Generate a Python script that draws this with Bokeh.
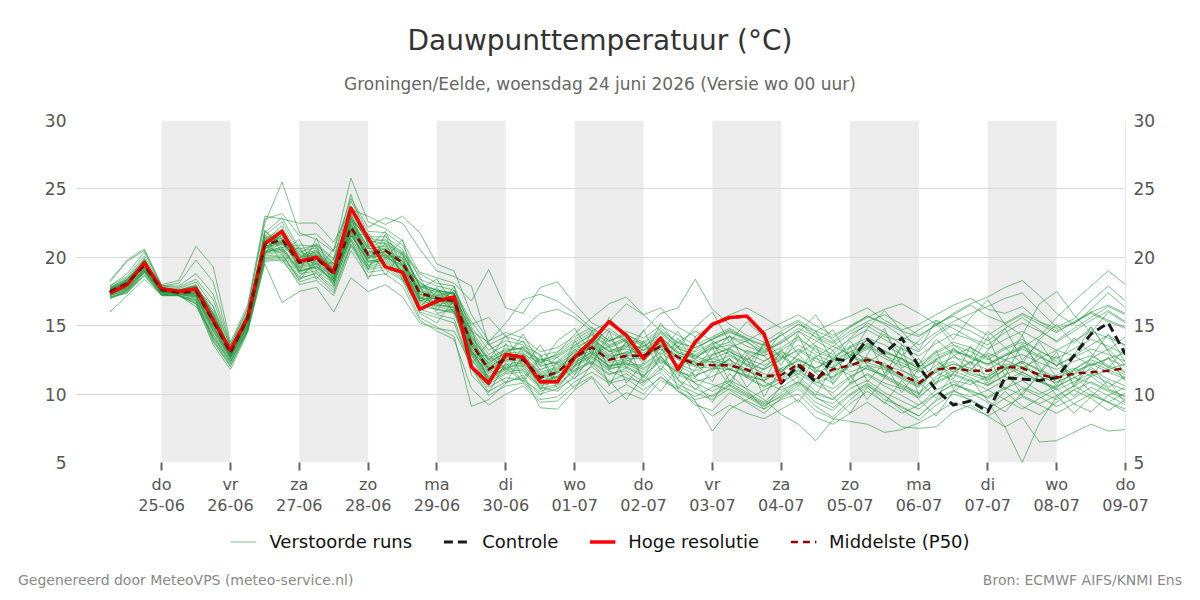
from bokeh.plotting import figure
from bokeh.layouts import column
from bokeh.models import (Range1d, LinearAxis, FixedTicker, BoxAnnotation, Div,
                          Legend, LegendItem)
from bokeh.embed import file_html
from bokeh.resources import INLINE

FONT = "DejaVu Sans"

# Forecast steps in hours after woensdag 24-06 00:00 (6-hourly)
hours = list(range(6, 361, 6))

# Day ticks (hours) with Dutch weekday / date labels
day_ticks = [24, 48, 72, 96, 120, 144, 168, 192, 216, 240, 264, 288, 312, 336, 360]
day_names = ["do", "vr", "za", "zo", "ma", "di", "wo", "do", "vr", "za", "zo", "ma", "di", "wo", "do"]
day_dates = ["25-06", "26-06", "27-06", "28-06", "29-06", "30-06", "01-07", "02-07",
             "03-07", "04-07", "05-07", "06-07", "07-07", "08-07", "09-07"]
# Alternate days shaded grey (start hour of each shaded day)
shaded_days = [24, 72, 120, 168, 216, 264, 312]

y_ticks = [5, 10, 15, 20, 25, 30]

# Median of the ensemble (P50)
p50 = [17.5, 18.1, 19.4, 17.6, 17.4, 17.5, 15.3, 13.0, 15.5, 20.9,
       21.3, 19.6, 19.9, 18.8, 22.2, 20.2, 20.5, 19.6, 17.4, 17.0,
       16.8, 13.7, 11.8, 12.6, 12.5, 11.2, 11.6, 12.7, 13.4, 12.5,
       12.8, 12.8, 13.5, 12.7, 12.2, 12.1, 12.1, 11.8, 11.3, 11.4,
       12.2, 11.2, 11.8, 12.1, 12.5, 12.2, 11.4, 10.8, 11.8, 11.9,
       11.7, 11.7, 12.0, 11.9, 11.4, 11.2, 11.5, 11.6, 11.7, 11.9]

# High resolution run (first 10 days)
hres = [17.4, 18.0, 19.6, 17.7, 17.5, 17.7, 15.4, 13.2, 15.6, 21.0,
        21.9, 19.7, 20.0, 18.9, 23.6, 21.4, 19.3, 18.9, 16.2, 16.8,
        17.1, 12.0, 10.8, 12.9, 12.7, 10.9, 10.9, 12.7, 13.9, 15.3,
        14.3, 12.6, 14.1, 11.8, 13.8, 15.1, 15.6, 15.7, 14.4, 10.8]

# Control run
controle = [17.4, 18.0, 19.6, 17.7, 17.5, 17.7, 15.4, 13.2, 15.6, 21.0,
            21.9, 19.7, 20.0, 18.9, 23.6, 21.4, 19.3, 18.9, 16.2, 16.8,
            17.1, 12.0, 10.8, 12.9, 12.7, 10.9, 10.9, 12.7, 13.9, 15.3,
            14.3, 12.6, 14.1, 11.8, 13.8, 15.1, 15.6, 15.7, 14.4, 10.8,
            12.1, 10.9, 12.6, 12.4, 14.0, 13.0, 14.1, 12.0, 10.3, 9.2,
            9.5, 8.7, 11.2, 11.1, 11.0, 11.2, 12.8, 14.4, 15.2, 12.9]

# Perturbed ensemble members
members = [
    [17.6, 18.2, 19.7, 17.8, 17.6, 17.9, 15.8, 13.1, 15.4, 21.2,
     22.3, 20.1, 20.4, 19.2, 23.4, 21.0, 20.0, 19.4, 16.8, 17.2,
     17.4, 12.5, 11.0, 12.8, 13.0, 11.4, 11.2, 12.5, 13.6, 14.8,
     13.9, 12.4, 13.8, 12.0, 13.2, 14.1, 14.6, 13.9, 12.8, 11.6,
     12.9, 11.5, 10.8, 12.4, 13.6, 12.9, 11.8, 10.9, 11.7, 12.8,
     13.4, 12.6, 11.9, 12.3, 11.0, 10.4, 11.8, 12.6, 13.3, 12.1],
    [17.3, 17.8, 19.1, 17.4, 17.3, 17.1, 14.6, 12.6, 15.0, 20.3,
     20.8, 19.0, 19.2, 18.3, 21.6, 19.8, 19.6, 18.7, 16.4, 16.2,
     16.0, 12.8, 10.9, 11.6, 11.8, 10.5, 10.2, 11.4, 12.6, 11.7,
     11.2, 10.8, 12.1, 11.0, 10.4, 9.8, 10.6, 9.9, 9.2, 9.8,
     10.6, 9.4, 8.8, 9.9, 10.7, 9.6, 9.1, 8.4, 9.5, 10.2,
     9.8, 10.3, 9.6, 8.9, 9.7, 10.4, 9.3, 8.7, 9.9, 10.5],
    [17.9, 18.6, 20.1, 17.9, 17.8, 18.4, 16.9, 13.4, 15.9, 21.8,
     22.9, 20.6, 20.9, 19.8, 24.1, 21.9, 21.8, 20.9, 18.4, 17.9,
     17.6, 14.9, 13.2, 13.9, 13.6, 12.4, 12.9, 13.8, 14.5, 13.8,
     14.6, 14.1, 15.0, 14.3, 13.6, 14.2, 14.8, 14.1, 13.2, 13.7,
     14.6, 13.5, 12.9, 14.1, 15.2, 14.5, 13.6, 13.1, 14.3, 15.1,
     14.6, 13.9, 14.8, 15.6, 14.7, 13.8, 14.6, 15.4, 16.1, 15.3],
    [17.0, 17.5, 18.9, 17.3, 17.2, 16.9, 14.2, 12.3, 14.8, 20.1,
     20.2, 18.6, 19.6, 18.0, 21.4, 19.4, 20.2, 19.0, 17.0, 16.6,
     16.3, 13.1, 11.5, 12.1, 12.4, 11.0, 11.3, 12.2, 13.1, 12.0,
     12.4, 12.9, 13.3, 12.1, 11.4, 11.8, 12.6, 11.3, 10.6, 11.2,
     12.0, 11.1, 11.6, 12.3, 11.8, 11.4, 10.7, 10.1, 11.3, 12.0,
     11.4, 11.0, 11.8, 12.4, 11.7, 10.9, 11.4, 12.2, 11.6, 11.1],
    [17.7, 18.4, 19.8, 17.7, 17.5, 17.8, 16.1, 13.3, 15.7, 21.0,
     21.6, 20.3, 21.0, 19.9, 22.8, 21.4, 21.2, 20.4, 18.9, 18.5,
     18.1, 16.8, 19.1, 16.3, 15.9, 17.8, 18.2, 16.6, 15.2, 14.6,
     13.8, 13.2, 14.1, 13.0, 12.6, 13.5, 12.9, 12.2, 11.8, 12.6,
     13.2, 12.4, 11.9, 12.8, 13.4, 12.6, 12.1, 11.6, 12.5, 13.1,
     12.8, 12.2, 12.9, 13.5, 12.8, 12.1, 12.7, 13.3, 12.9, 12.4],
    [17.5, 18.0, 19.3, 17.6, 17.4, 17.6, 15.6, 13.0, 15.3, 20.7,
     21.1, 19.8, 20.2, 19.1, 22.5, 20.6, 20.9, 20.1, 17.9, 17.4,
     17.3, 14.6, 13.8, 15.2, 16.9, 17.3, 16.8, 15.9, 14.8, 13.9,
     14.4, 13.6, 12.9, 13.8, 14.6, 13.9, 13.1, 12.5, 13.4, 12.8,
     11.9, 12.7, 13.5, 12.9, 12.3, 13.1, 12.6, 11.8, 12.4, 11.6,
     12.3, 13.0, 12.5, 11.9, 12.6, 13.2, 12.8, 12.1, 12.6, 13.0],
    [17.2, 17.6, 19.0, 17.3, 17.2, 16.8, 13.9, 12.1, 14.6, 19.7,
     19.8, 18.2, 18.6, 17.4, 20.8, 18.9, 19.1, 18.3, 15.6, 14.9,
     14.2, 9.1, 9.6, 10.8, 11.4, 9.0, 8.9, 10.3, 11.2, 9.3,
     10.1, 9.6, 11.0, 10.4, 9.2, 8.8, 10.1, 9.4, 8.6, 9.7,
     10.4, 9.1, 8.3, 9.6, 10.6, 9.9, 8.8, 8.1, 9.2, 10.0,
     9.6, 8.9, 10.2, 9.1, 8.5, 9.4, 10.3, 9.7, 8.8, 9.6],
    [17.8, 18.5, 19.9, 17.8, 17.7, 18.2, 16.4, 13.5, 16.0, 21.6,
     22.6, 20.4, 20.7, 19.5, 23.7, 21.5, 21.5, 20.6, 17.8, 17.5,
     17.4, 13.9, 12.2, 13.1, 13.4, 12.1, 12.3, 13.2, 14.1, 13.1,
     13.6, 13.4, 14.4, 13.3, 12.9, 13.6, 14.2, 13.8, 13.1, 13.9,
     14.8, 14.2, 13.7, 14.6, 15.3, 15.8, 15.1, 14.3, 15.0, 15.9,
     16.6, 17.1, 17.8, 18.3, 17.2, 15.9, 15.1, 16.2, 17.4, 16.3],
    [17.4, 17.9, 19.2, 17.5, 17.3, 17.4, 15.1, 12.8, 15.3, 20.6,
     21.0, 19.4, 19.7, 18.6, 22.0, 20.0, 20.3, 19.4, 17.2, 16.9,
     16.6, 13.4, 11.6, 12.4, 12.2, 11.1, 11.5, 12.6, 13.2, 12.3,
     12.6, 12.6, 13.3, 12.5, 12.0, 11.9, 11.8, 11.4, 11.0, 11.6,
     12.5, 11.9, 12.6, 11.6, 12.1, 11.8, 11.1, 10.5, 11.9, 12.4,
     11.5, 11.2, 12.1, 11.6, 11.0, 11.4, 11.9, 11.3, 11.8, 12.2],
    [17.1, 17.4, 18.8, 17.2, 17.2, 16.9, 14.0, 12.2, 14.7, 19.9,
     20.0, 18.4, 18.9, 17.8, 21.0, 19.2, 19.5, 18.5, 16.0, 15.6,
     15.2, 11.8, 10.5, 11.2, 11.0, 10.2, 10.6, 11.7, 12.3, 11.4,
     11.9, 11.3, 12.5, 11.6, 10.8, 10.2, 10.9, 10.1, 9.4, 10.5,
     11.3, 10.2, 9.6, 10.8, 11.4, 10.6, 9.9, 9.2, 10.3, 10.9,
     10.1, 9.4, 7.6, 5.0, 7.9, 9.8, 10.6, 11.3, 10.4, 9.8],
    [17.6, 18.3, 19.6, 17.7, 17.5, 17.7, 15.5, 13.1, 15.6, 21.1,
     21.5, 19.8, 20.1, 19.0, 22.4, 20.4, 20.7, 19.8, 17.6, 17.2,
     17.0, 14.0, 12.1, 12.9, 12.8, 11.6, 12.0, 13.1, 13.8, 12.9,
     13.4, 14.6, 15.9, 16.3, 18.4, 16.2, 15.1, 14.3, 13.8, 14.6,
     15.3, 14.1, 13.5, 14.4, 15.0, 14.2, 13.9, 14.7, 15.4, 14.8,
     14.1, 13.6, 14.5, 15.2, 14.6, 13.9, 14.8, 15.6, 16.4, 15.8],
    [17.3, 17.7, 19.0, 17.4, 17.3, 17.3, 14.9, 12.7, 15.1, 20.4,
     20.6, 19.1, 19.3, 18.4, 21.8, 19.7, 20.0, 19.1, 16.9, 16.5,
     16.4, 13.2, 11.3, 12.2, 12.0, 10.8, 11.1, 12.1, 12.9, 12.1,
     12.2, 12.1, 13.0, 12.2, 11.7, 12.3, 12.8, 12.1, 11.5, 10.9,
     11.7, 10.8, 11.3, 12.1, 12.7, 12.0, 11.4, 10.8, 11.6, 11.0,
     10.7, 11.3, 12.0, 11.4, 10.9, 10.5, 11.2, 11.8, 11.1, 10.6],
    [17.9, 18.8, 20.4, 17.9, 17.9, 18.8, 17.3, 13.6, 16.2, 22.5,
     25.5, 21.8, 21.3, 20.4, 25.8, 22.6, 22.1, 21.2, 18.8, 18.1,
     17.9, 14.6, 12.9, 13.6, 13.2, 12.5, 12.8, 13.6, 14.3, 13.4,
     13.9, 13.2, 14.2, 13.1, 12.8, 13.4, 13.8, 13.0, 12.4, 13.2,
     14.0, 13.3, 12.7, 13.5, 14.1, 13.6, 12.9, 12.2, 13.1, 13.8,
     13.4, 12.7, 13.4, 14.0, 13.1, 12.6, 13.3, 14.0, 13.5, 12.9],
    [16.0, 17.2, 18.4, 17.2, 17.2, 16.6, 13.6, 11.8, 14.5, 19.5,
     16.7, 17.5, 17.8, 16.0, 18.5, 17.5, 18.0, 17.1, 15.2, 14.8,
     14.6, 12.1, 10.2, 10.9, 11.2, 10.0, 10.4, 11.2, 12.0, 10.9,
     11.5, 10.6, 11.9, 10.7, 10.1, 9.6, 10.4, 9.8, 9.1, 9.9,
     10.8, 9.7, 9.3, 10.4, 11.0, 10.1, 9.5, 8.9, 10.0, 10.7,
     10.2, 9.8, 10.5, 9.9, 9.3, 9.9, 10.6, 9.9, 9.4, 10.1],
    [18.3, 19.8, 20.6, 18.0, 18.3, 20.8, 19.3, 13.8, 16.5, 23.0,
     22.8, 22.5, 22.5, 21.1, 23.5, 23.0, 22.4, 23.0, 21.8, 19.5,
     19.0, 15.8, 13.9, 14.5, 14.1, 13.1, 13.4, 14.2, 14.9, 13.9,
     14.3, 13.8, 14.8, 13.7, 13.4, 14.0, 14.7, 14.0, 13.6, 14.3,
     15.1, 14.4, 13.8, 14.9, 15.7, 15.1, 14.2, 13.6, 14.5, 15.3,
     15.9, 16.4, 17.0, 17.4, 16.1, 14.9, 15.5, 16.8, 17.9, 16.8],
    [17.5, 18.0, 19.3, 17.5, 17.4, 17.5, 15.3, 12.9, 15.4, 20.8,
     21.2, 19.5, 19.8, 18.7, 22.1, 20.1, 20.4, 19.5, 17.3, 16.9,
     16.7, 13.6, 11.7, 12.5, 12.6, 11.3, 11.7, 12.8, 13.5, 12.6,
     13.1, 13.5, 14.2, 12.9, 12.3, 12.6, 12.2, 11.7, 11.2, 11.9,
     12.4, 11.6, 12.0, 12.7, 12.3, 11.9, 11.2, 10.6, 11.8, 12.2,
     11.9, 11.4, 12.2, 12.0, 11.5, 11.1, 11.7, 12.1, 12.6, 12.0],
    [17.2, 17.7, 19.1, 17.4, 17.3, 17.0, 14.4, 12.5, 14.9, 20.2,
     20.4, 18.8, 19.0, 18.1, 21.2, 19.3, 19.7, 18.8, 16.6, 16.2,
     15.9, 12.6, 10.7, 11.5, 11.6, 10.4, 10.7, 11.8, 12.4, 11.5,
     11.7, 10.9, 11.6, 10.2, 9.4, 8.4, 9.2, 8.6, 8.2, 8.9,
     9.6, 8.3, 7.8, 8.6, 9.4, 8.5, 7.6, 7.5, 7.6, 8.7,
     9.2, 8.4, 7.6, 8.3, 6.5, 6.6, 7.2, 7.8, 7.3, 7.4],
    [17.7, 18.3, 19.5, 17.7, 17.5, 17.6, 15.4, 13.1, 15.6, 21.0,
     21.6, 19.9, 20.3, 19.1, 22.7, 20.6, 20.8, 19.9, 17.7, 17.3,
     17.1, 14.2, 12.4, 13.0, 13.1, 11.8, 12.2, 13.0, 13.9, 13.1,
     13.3, 12.8, 13.6, 12.8, 12.4, 12.9, 13.3, 12.6, 12.1, 12.7,
     13.6, 12.9, 12.3, 13.1, 13.7, 13.2, 12.5, 11.9, 12.8, 13.3,
     12.6, 12.2, 12.8, 13.3, 12.7, 12.1, 12.8, 13.6, 14.3, 13.5],
    [17.4, 17.9, 19.4, 17.5, 17.4, 17.4, 15.2, 12.9, 15.4, 20.7,
     21.1, 19.3, 19.6, 18.5, 22.0, 20.0, 20.1, 19.2, 17.1, 16.8,
     16.6, 13.3, 11.2, 11.9, 12.3, 10.9, 11.3, 12.4, 13.1, 12.1,
     12.5, 11.9, 12.8, 11.1, 9.5, 7.3, 8.9, 9.6, 10.3, 10.9,
     11.5, 10.7, 10.1, 11.2, 12.0, 11.3, 10.6, 10.0, 11.1, 11.7,
     11.2, 10.6, 11.4, 12.0, 11.3, 10.8, 11.5, 12.3, 11.8, 11.2],
    [17.6, 18.2, 19.6, 17.6, 17.5, 17.8, 15.9, 13.2, 15.7, 21.3,
     21.9, 20.2, 20.5, 19.4, 22.9, 21.2, 21.0, 20.2, 18.1, 17.6,
     17.3, 15.1, 15.6, 14.2, 14.8, 15.9, 16.2, 15.6, 14.6, 15.3,
     16.6, 15.8, 16.3, 14.9, 14.2, 15.1, 15.8, 16.3, 15.6, 14.8,
     15.4, 14.6, 15.2, 15.7, 16.3, 15.4, 14.7, 15.1, 15.8, 16.5,
     17.0, 16.2, 15.9, 16.4, 15.3, 14.8, 15.2, 16.0, 16.5, 15.9],
    [17.3, 17.8, 19.2, 17.5, 17.3, 17.2, 14.8, 12.8, 15.2, 20.5,
     20.7, 19.2, 19.5, 18.5, 21.9, 19.9, 20.2, 19.3, 17.0, 16.7,
     16.5, 12.9, 11.0, 11.8, 11.7, 10.6, 10.9, 12.0, 12.7, 11.9,
     12.0, 11.4, 12.4, 11.6, 11.3, 11.9, 12.5, 11.8, 10.9, 10.3,
     10.9, 10.0, 9.6, 10.7, 11.5, 10.8, 10.4, 9.7, 10.9, 11.5,
     11.0, 10.7, 11.3, 10.5, 10.0, 10.6, 11.2, 10.8, 10.2, 9.6],
    [17.8, 18.4, 19.7, 17.8, 17.6, 17.9, 15.7, 13.2, 15.8, 21.4,
     22.0, 20.0, 20.4, 19.3, 23.1, 21.1, 21.3, 20.3, 18.0, 17.6,
     17.3, 14.5, 12.6, 13.3, 13.3, 12.0, 12.4, 13.4, 14.0, 13.2,
     13.5, 13.0, 13.9, 13.0, 12.7, 13.3, 13.6, 13.1, 12.8, 13.4,
     14.2, 13.1, 12.6, 13.4, 13.9, 13.0, 12.6, 12.0, 13.0, 13.6,
     13.1, 12.5, 13.3, 13.8, 13.2, 12.4, 11.3, 10.2, 9.4, 8.7],
    [17.1, 17.5, 18.9, 17.3, 17.2, 16.7, 14.1, 12.4, 14.8, 20.0,
     20.1, 18.5, 18.8, 17.6, 20.9, 19.1, 19.3, 18.4, 16.2, 15.8,
     15.5, 11.9, 9.9, 10.6, 10.8, 9.6, 9.8, 10.9, 11.6, 10.8,
     11.1, 10.3, 11.2, 10.5, 9.8, 10.5, 11.0, 10.4, 9.6, 8.5,
     7.8, 6.6, 8.1, 9.3, 10.2, 9.4, 8.6, 9.2, 10.0, 10.7,
     10.3, 9.7, 10.4, 11.0, 10.2, 9.6, 10.3, 10.9, 10.3, 9.8],
    [17.6, 18.1, 19.5, 17.6, 17.5, 17.6, 15.6, 13.0, 15.5, 21.1,
     21.4, 19.7, 20.0, 18.9, 22.3, 20.3, 20.6, 19.7, 17.5, 17.1,
     16.9, 13.8, 12.0, 12.7, 12.6, 11.4, 11.8, 12.9, 13.6, 12.8,
     13.0, 13.2, 13.7, 12.6, 12.2, 12.4, 12.1, 11.6, 12.4, 13.1,
     12.5, 11.9, 12.5, 13.1, 12.6, 12.1, 11.7, 11.2, 12.1, 12.7,
     12.3, 11.8, 12.5, 12.9, 12.3, 11.8, 12.4, 12.8, 12.1, 11.6],
    [17.7, 18.3, 19.6, 17.7, 17.6, 17.8, 15.9, 13.2, 15.6, 21.2,
     21.8, 20.0, 20.2, 19.2, 22.6, 20.8, 21.1, 20.2, 17.9, 17.6,
     17.4, 14.3, 12.5, 13.2, 13.4, 12.3, 12.7, 13.5, 14.4, 13.5,
     14.0, 13.7, 14.6, 13.8, 13.4, 14.0, 14.5, 14.1, 13.5, 14.3,
     15.1, 14.6, 14.1, 15.0, 15.7, 15.2, 14.6, 14.2, 15.1, 15.7,
     15.0, 14.3, 15.1, 15.8, 15.1, 14.5, 15.3, 16.0, 15.4, 14.9],
    [17.2, 17.6, 19.0, 17.4, 17.3, 17.1, 14.6, 12.6, 15.0, 20.3,
     20.5, 18.9, 19.4, 18.2, 21.6, 19.6, 19.8, 18.9, 16.7, 16.4,
     16.1, 13.0, 11.1, 11.9, 11.9, 10.7, 11.0, 12.1, 12.8, 11.8,
     12.2, 11.6, 12.6, 11.4, 10.9, 11.3, 11.9, 11.2, 10.5, 11.1,
     11.8, 10.9, 10.4, 11.3, 11.9, 11.2, 10.5, 9.8, 10.8, 11.4,
     10.9, 10.3, 11.0, 11.6, 10.9, 10.3, 10.9, 11.5, 10.8, 10.3],
    [18.2, 19.7, 20.5, 17.9, 18.1, 19.8, 18.2, 13.6, 16.3, 22.8,
     23.2, 21.6, 21.7, 20.5, 24.3, 22.2, 22.9, 22.5, 20.6, 19.0,
     18.6, 17.9, 13.6, 14.2, 13.8, 12.8, 13.1, 14.0, 14.7, 13.6,
     14.1, 13.5, 14.5, 13.5, 13.1, 13.7, 14.2, 13.5, 13.0, 13.8,
     14.6, 13.9, 13.2, 14.0, 14.7, 14.0, 13.3, 12.8, 13.7, 14.4,
     14.0, 13.3, 14.0, 14.6, 13.9, 13.2, 13.9, 14.6, 14.1, 13.6],
    [17.0, 17.4, 18.7, 17.2, 17.2, 16.6, 13.8, 12.0, 14.6, 19.8,
     19.9, 18.0, 18.3, 17.2, 20.5, 18.6, 18.8, 17.9, 15.4, 14.6,
     14.0, 10.4, 9.2, 10.0, 10.6, 9.4, 9.5, 10.6, 11.3, 10.0,
     10.7, 10.0, 11.3, 10.2, 9.6, 9.9, 10.7, 10.0, 9.3, 10.1,
     10.9, 9.8, 9.0, 10.0, 10.8, 9.9, 9.0, 8.4, 9.6, 10.3,
     9.5, 8.9, 9.7, 10.4, 9.8, 9.1, 9.7, 10.5, 9.9, 9.2],
    [17.5, 18.0, 19.4, 17.6, 17.4, 17.5, 15.4, 13.0, 15.4, 20.9,
     21.3, 19.6, 20.0, 18.8, 22.2, 20.2, 20.5, 19.6, 17.4, 17.0,
     16.8, 13.7, 11.9, 12.6, 12.9, 12.3, 13.0, 14.4, 15.6, 16.6,
     17.1, 15.8, 14.6, 13.4, 12.8, 12.3, 11.8, 11.3, 11.0, 11.7,
     12.6, 11.8, 11.2, 12.0, 12.6, 12.0, 11.3, 10.7, 11.6, 12.2,
     11.7, 11.1, 11.8, 12.4, 11.8, 11.2, 11.8, 12.5, 12.0, 11.4],
    [17.6, 18.2, 19.5, 17.7, 17.5, 17.7, 15.5, 13.1, 15.6, 21.0,
     21.4, 19.8, 20.1, 19.0, 22.4, 20.4, 20.6, 19.7, 17.5, 17.1,
     16.9, 13.8, 11.9, 12.8, 12.7, 11.5, 11.9, 12.9, 13.5, 12.7,
     13.0, 12.7, 13.5, 12.6, 12.1, 12.6, 13.1, 12.4, 11.8, 12.5,
     13.3, 12.6, 12.1, 12.9, 13.5, 12.8, 12.3, 11.7, 12.6, 13.2,
     12.7, 12.1, 12.8, 13.4, 14.2, 15.6, 16.8, 17.9, 19.0, 18.0],
    [17.3, 17.8, 19.1, 17.5, 17.3, 17.2, 14.9, 12.7, 15.1, 20.4,
     20.6, 19.0, 19.3, 18.3, 21.7, 19.7, 19.9, 19.0, 16.8, 16.5,
     16.3, 13.1, 11.2, 12.0, 12.1, 10.9, 11.2, 12.3, 13.0, 12.0,
     12.3, 11.8, 12.7, 11.7, 11.1, 10.7, 10.3, 9.5, 8.9, 9.6,
     10.0, 8.8, 8.2, 8.0, 7.8, 7.2, 7.4, 7.9, 8.6, 9.4,
     9.0, 8.4, 9.1, 9.8, 9.2, 8.6, 9.3, 10.0, 9.4, 8.9],
    [17.5, 18.1, 19.4, 17.6, 17.4, 17.5, 15.3, 12.9, 15.5, 20.8,
     21.2, 19.6, 19.9, 18.8, 22.1, 20.1, 20.4, 19.5, 17.3, 16.9,
     16.7, 13.6, 11.8, 12.5, 12.4, 11.2, 11.6, 12.7, 13.4, 12.5,
     12.8, 12.8, 13.6, 12.7, 12.1, 12.8, 13.4, 13.9, 14.6, 15.2,
     15.8, 15.0, 14.3, 14.9, 15.6, 16.2, 16.6, 15.9, 15.1, 15.8,
     16.5, 15.7, 15.2, 15.9, 15.3, 14.6, 15.2, 15.9, 15.3, 14.8],
    [17.4, 18.3, 19.9, 17.6, 17.5, 17.2, 14.7, 12.7, 15.3, 22.0,
     20.4, 21.3, 19.0, 20.6, 21.9, 19.1, 21.7, 18.3, 17.9, 15.9,
     16.2, 12.2, 13.8, 11.6, 13.5, 12.9, 10.8, 13.9, 12.2, 14.6,
     11.9, 13.9, 11.7, 14.1, 12.3, 10.9, 13.4, 11.2, 13.8, 12.1,
     14.3, 11.6, 13.2, 10.8, 12.9, 14.8, 11.9, 12.6, 10.7, 13.4,
     12.1, 14.2, 11.3, 13.7, 12.0, 10.6, 12.8, 14.9, 13.1, 11.5],
    [17.8, 18.1, 19.3, 17.5, 17.6, 18.0, 15.9, 12.9, 15.8, 20.2,
     22.1, 18.9, 21.4, 18.4, 23.0, 19.4, 19.9, 21.3, 16.9, 17.8,
     15.9, 14.8, 10.6, 13.7, 11.1, 12.8, 10.4, 12.0, 14.6, 11.8,
     13.9, 10.9, 12.8, 11.1, 14.2, 12.4, 10.6, 12.9, 10.9, 13.3,
     11.4, 13.6, 10.7, 12.2, 14.1, 11.5, 13.4, 9.9, 12.6, 11.1,
     13.5, 10.8, 12.4, 14.3, 11.6, 13.1, 10.5, 12.7, 14.4, 12.3],
    [17.2, 17.9, 19.6, 17.7, 17.4, 17.6, 15.2, 13.3, 15.1, 21.5,
     19.6, 20.8, 18.4, 19.9, 24.6, 20.9, 18.7, 20.4, 18.6, 16.1,
     17.9, 13.1, 11.9, 10.8, 12.9, 10.3, 12.4, 11.6, 13.8, 10.6,
     12.9, 11.2, 13.6, 10.4, 11.8, 13.4, 10.9, 12.6, 9.8, 11.9,
     10.6, 12.8, 11.0, 13.5, 10.9, 12.3, 10.1, 11.9, 13.2, 10.4,
     11.8, 12.9, 10.3, 11.6, 13.0, 11.2, 9.8, 11.4, 12.7, 10.9],
    [17.6, 17.7, 19.0, 17.8, 17.3, 17.4, 15.0, 12.8, 15.6, 20.6,
     21.7, 19.2, 20.7, 17.9, 22.7, 21.6, 19.2, 19.0, 17.7, 18.4,
     16.5, 14.1, 12.5, 14.3, 12.0, 13.6, 11.5, 13.3, 12.1, 14.2,
     12.6, 14.7, 12.2, 13.5, 11.2, 12.9, 14.3, 12.0, 13.7, 11.6,
     13.0, 14.6, 12.4, 13.9, 12.1, 11.3, 13.6, 12.2, 14.0, 12.9,
     11.7, 13.2, 14.8, 12.5, 13.8, 12.0, 14.1, 13.0, 11.9, 13.4],
    [17.3, 18.4, 19.5, 17.4, 17.5, 17.3, 15.5, 12.9, 14.9, 21.9,
     20.9, 20.6, 19.5, 19.6, 23.2, 19.9, 21.0, 18.6, 16.4, 17.5,
     17.0, 12.9, 12.8, 11.9, 10.9, 12.6, 12.2, 11.1, 12.9, 13.5,
     10.8, 12.3, 14.0, 11.9, 10.3, 11.7, 12.6, 10.5, 11.9, 13.0,
     11.1, 9.9, 12.0, 11.4, 9.6, 11.2, 12.7, 10.9, 9.7, 11.6,
     12.4, 10.6, 11.9, 9.9, 11.5, 12.8, 10.7, 12.0, 10.5, 11.3],
    [17.7, 18.0, 19.8, 17.6, 17.6, 17.9, 15.6, 13.4, 15.7, 20.4,
     21.0, 19.9, 20.9, 19.5, 21.5, 21.8, 20.1, 20.0, 17.1, 16.6,
     17.6, 15.3, 13.6, 12.6, 14.4, 12.1, 13.9, 14.8, 12.9, 15.6,
     14.1, 12.6, 15.2, 13.4, 14.9, 16.0, 13.8, 15.3, 14.1, 12.6,
     14.5, 15.8, 13.9, 12.7, 14.8, 16.1, 14.6, 13.2, 15.4, 14.0,
     15.6, 16.9, 15.1, 14.3, 16.6, 17.5, 15.8, 14.5, 16.0, 15.2],
    [17.0, 17.6, 18.6, 17.3, 17.2, 16.4, 14.3, 12.4, 14.7, 20.8,
     20.3, 18.3, 19.9, 18.7, 21.3, 18.4, 20.6, 18.9, 15.9, 15.2,
     16.9, 11.4, 10.1, 12.3, 10.9, 9.9, 11.7, 10.4, 12.2, 11.0,
     9.6, 11.4, 10.2, 12.0, 10.8, 9.4, 11.5, 10.3, 8.9, 10.6,
     9.4, 11.2, 9.8, 8.6, 10.5, 9.3, 11.0, 9.6, 8.4, 10.2,
     11.1, 9.5, 8.7, 10.1, 11.4, 9.9, 8.6, 9.8, 11.0, 9.3],
    [17.5, 18.2, 19.2, 17.7, 17.4, 17.7, 16.4, 13.0, 15.9, 21.6,
     20.7, 20.9, 20.8, 18.2, 22.9, 20.7, 21.9, 19.3, 18.2, 17.1,
     16.0, 13.5, 12.3, 13.0, 13.9, 11.7, 12.7, 11.4, 13.9, 12.4,
     13.8, 12.2, 13.1, 14.6, 12.5, 13.8, 11.7, 13.2, 12.8, 14.5,
     12.9, 13.8, 14.7, 12.6, 13.3, 14.4, 12.8, 13.9, 15.2, 13.6,
     12.7, 14.6, 13.4, 12.2, 14.0, 15.1, 13.7, 14.9, 13.2, 14.2],
]

for k, m in enumerate(members):
    if len(m) != len(hours):
        raise ValueError(f"member {k} has {len(m)} values")
for name, s in (("p50", p50), ("controle", controle)):
    if len(s) != len(hours):
        raise ValueError(f"{name} has {len(s)} values")

W = 1200
HEADER_H = 100          # title block
MAIN_H = 420            # chart with its axes
LEGEND_H = 42           # legend strip
FOOTER_H = 600 - HEADER_H - MAIN_H - LEGEND_H
FRAME_L, FRAME_W, FRAME_H, FRAME_TOP_PAD = 75, 1050, 342, 20

MEMBER_STYLE = dict(line_color="#25973f", line_alpha=0.6, line_width=1, line_join="round")
CTRL_STYLE = dict(line_color="#1a1a1a", line_width=3, line_dash="9 5", line_join="round")
HRES_STYLE = dict(line_color="#ff0000", line_width=3.5, line_join="round")
P50_STYLE = dict(line_color="#8b0000", line_width=2.5, line_dash="7 5", line_join="round")

p = figure(width=W, height=MAIN_H, x_range=Range1d(-6, 360), y_range=Range1d(5, 30),
           output_backend="svg", toolbar_location=None,
           min_border_left=FRAME_L, min_border_right=W - FRAME_L - FRAME_W,
           min_border_top=FRAME_TOP_PAD,
           min_border_bottom=MAIN_H - FRAME_TOP_PAD - FRAME_H)
p.outline_line_color = None
p.background_fill_color = "white"
p.border_fill_color = "white"

# shaded alternate days
for start in shaded_days:
    p.add_layout(BoxAnnotation(left=start, right=start + 24, fill_color="#ececec",
                               fill_alpha=1.0, line_alpha=0, level="image"))

# axes
xa = p.xaxis[0]
xa.ticker = FixedTicker(ticks=day_ticks)
xa.major_label_overrides = {t: f"{n}\n{d}" for t, n, d in zip(day_ticks, day_names, day_dates)}
xa.axis_line_color = None
xa.major_tick_in = 0
xa.major_tick_out = 8
xa.major_tick_line_color = "#666666"
xa.major_tick_line_width = 2
xa.minor_tick_line_color = None
xa.major_label_standoff = 4
xa.major_label_text_font = FONT
xa.major_label_text_font_size = "16px"
xa.major_label_text_color = "#555555"
xa.major_label_text_line_height = 1.15


def style_value_axis(ax, standoff):
    ax.ticker = FixedTicker(ticks=y_ticks)
    ax.major_tick_line_color = None
    ax.minor_tick_line_color = None
    ax.major_tick_in = 0
    ax.major_tick_out = 0
    ax.major_label_standoff = standoff
    ax.major_label_text_font = FONT
    ax.major_label_text_font_size = "17px"
    ax.major_label_text_color = "#555555"


ya = p.yaxis[0]
style_value_axis(ya, 9)
ya.axis_line_color = None

yr = LinearAxis()
style_value_axis(yr, 8)
yr.axis_line_color = "#e6e6e6"
p.add_layout(yr, "right")

p.xgrid.visible = False
p.ygrid.grid_line_color = "#d9d9d9"
p.ygrid.grid_line_width = 1
p.ygrid.level = "underlay"

# series
p.multi_line(xs=[hours] * len(members), ys=members, **MEMBER_STYLE)
p.line(hours, controle, **CTRL_STYLE)
p.line(hours[:len(hres)], hres, **HRES_STYLE)
p.line(hours, p50, **P50_STYLE)

# legend strip below the chart; its key renderers sit outside the visible range
lg = figure(width=W, height=LEGEND_H, x_range=Range1d(0, 1), y_range=Range1d(0, 1),
            output_backend="svg", toolbar_location=None, x_axis_type=None,
            y_axis_type=None, min_border=0)
lg.outline_line_color = None
lg.grid.visible = False
lg.background_fill_color = "white"
lg.border_fill_color = "white"
off = [-5, -4]
k_members = lg.multi_line(xs=[off], ys=[off], **MEMBER_STYLE)
k_ctrl = lg.line(x=off, y=off, **CTRL_STYLE)
k_hres = lg.line(x=off, y=off, **HRES_STYLE)
k_p50 = lg.line(x=off, y=off, **P50_STYLE)
legend = Legend(items=[
    LegendItem(label="Verstoorde runs", renderers=[k_members]),
    LegendItem(label="Controle", renderers=[k_ctrl]),
    LegendItem(label="Hoge resolutie", renderers=[k_hres]),
    LegendItem(label="Middelste (P50)", renderers=[k_p50]),
], orientation="horizontal", location="center", border_line_alpha=0,
   background_fill_alpha=0, label_text_font=FONT, label_text_font_size="18px",
   label_text_color="#111111", glyph_width=26, label_standoff=13, spacing=31,
   padding=10, margin=0)
lg.add_layout(legend, "center")

header = Div(width=W, height=HEADER_H, margin=0, text=(
    f'<div style="position:relative;width:{W}px;height:{HEADER_H}px;font-family:\'{FONT}\';">'
    '<div style="position:absolute;left:0;top:25px;width:100%;text-align:center;'
    'font-size:28px;line-height:32px;color:#333333;">Dauwpunttemperatuur (°C)</div>'
    '<div style="position:absolute;left:0;top:73px;width:100%;text-align:center;'
    'font-size:17px;line-height:22px;color:#666666;">'
    'Groningen/Eelde, woensdag 24 juni 2026 (Versie wo 00 uur)</div>'
    '</div>'))

footer = Div(width=W, height=FOOTER_H, margin=0, text=(
    f'<div style="position:relative;width:{W}px;height:{FOOTER_H}px;font-family:\'{FONT}\';'
    'font-size:14px;line-height:18px;color:#888888;">'
    '<div style="position:absolute;left:18px;top:9px;">'
    'Gegenereerd door MeteoVPS (meteo-service.nl)</div>'
    '<div style="position:absolute;right:18px;top:9px;">Bron: ECMWF AIFS/KNMI Ens</div>'
    '</div>'))

layout = column(header, p, lg, footer, spacing=0)
open("out.html", "w").write(file_html(layout, INLINE))
